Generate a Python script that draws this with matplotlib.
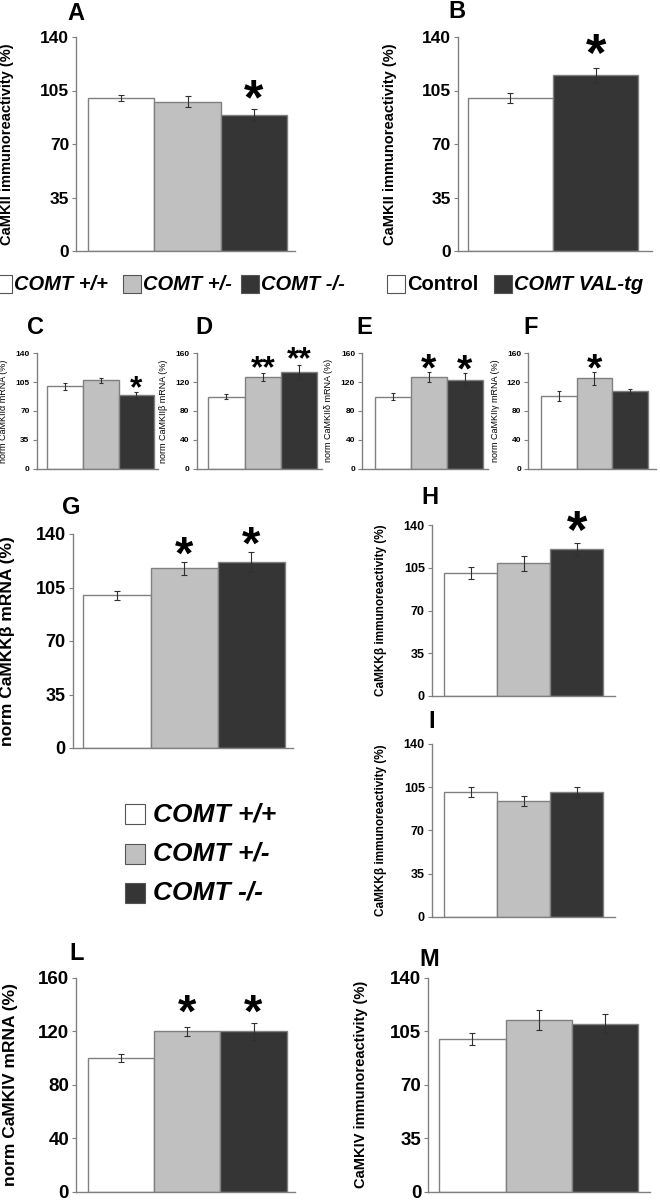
import numpy as np
import matplotlib
matplotlib.use('Agg')
import matplotlib.pyplot as plt
from matplotlib.patches import Rectangle

plt.rcParams['font.family'] = ['Liberation Sans', 'DejaVu Sans']

W, H = 660, 1200

# colores de las barras: +/+ , +/- , -/-
colores = ['white', '#c0c0c0', '#353535']
borde = '#808080'

# datos (% del control)
a_vals = [100, 97.5, 89];    a_err = [1.8, 3.6, 4];    a_sig = ['', '', '*']
b_vals = [100, 115];         b_err = [3.3, 5];         b_sig = ['', '*']
c_vals = [100, 107, 89];     c_err = [4, 2.8, 4.5];    c_sig = ['', '', '*']
d_vals = [100, 127, 134];    d_err = [3, 5, 10];       d_sig = ['', '**', '**']
e_vals = [100, 127, 123];    e_err = [4.5, 6.5, 9.5];  e_sig = ['', '*', '*']
f_vals = [100.5, 125, 107.5]; f_err = [7, 8.5, 3];     f_sig = ['', '*', '']
g_vals = [100, 117.5, 121.5]; g_err = [3, 4, 6.5];     g_sig = ['', '*', '*']
h_vals = [100.5, 108.5, 120]; h_err = [5, 6.5, 5];     h_sig = ['', '', '*']
i_vals = [101, 94, 101];     i_err = [4, 4, 4];        i_sig = ['', '', '']
l_vals = [100, 120, 120];    l_err = [3, 3.5, 6.5];    l_sig = ['', '*', '*']
m_vals = [100, 112.5, 110];  m_err = [4, 6.5, 6];      m_sig = ['', '', '']

ticks_140 = [0, 35, 70, 105, 140]
ticks_160 = [0, 40, 80, 120, 160]

fig = plt.figure(figsize=(W / 100, H / 100), dpi=100)


def fx(x):
    return x / W


def fy(y):
    return 1 - y / H


def estrella(ax, x, ytop, texto, alto_px, hueco_px):
    # glifo '*' de Liberation Sans Bold: ~0.28 a ~0.66 em sobre la base
    em = alto_px / 0.38
    fs = em * 72 / 100
    off = (hueco_px - 0.28 * em) * 72 / 100
    ax.annotate(texto, (x, ytop), xytext=(0, off), textcoords='offset points',
                ha='center', va='baseline', fontsize=fs, fontweight='bold',
                annotation_clip=False)


def panel(caja, vals, errs, sig, ticks, ylabel, tick_fs, lab_fs, lab_bold,
          lab_x, cols, ast_h=18, ast_gap=8, alinear=False, cap=2.5):
    spine, top, bottom, end, bl, br = caja
    n = len(vals)
    ax = fig.add_axes([fx(spine), fy(bottom), (end - spine) / W, (bottom - top) / H])
    unit = (br - bl) / n
    ax.set_xlim(-0.5 - (bl - spine) / unit, n - 0.5 + (end - br) / unit)
    ax.set_ylim(0, ticks[-1])
    x = np.arange(n)
    ax.bar(x, vals, width=1.0, color=cols, edgecolor=borde, linewidth=1.0,
           yerr=errs, error_kw=dict(ecolor='#303030', elinewidth=0.8,
                                    capsize=cap, capthick=0.8))
    for s in ['top', 'right']:
        ax.spines[s].set_visible(False)
    for s in ['left', 'bottom']:
        ax.spines[s].set_color(borde)
        ax.spines[s].set_linewidth(1.0)
    ax.set_xticks([])
    ax.set_yticks(ticks)
    ax.tick_params(axis='y', length=3, width=0.8, color=borde, labelsize=tick_fs, pad=2)
    for t in ax.get_yticklabels():
        t.set_fontweight('bold')
    ax.set_ylabel(ylabel, fontsize=lab_fs, fontweight='bold' if lab_bold else 'normal')
    ax.yaxis.set_label_coords((lab_x - spine) / (end - spine), 0.5)
    tops = [v + e for v, e in zip(vals, errs)]
    for i, s in enumerate(sig):
        if s:
            yt = max(tops) if alinear else tops[i]
            estrella(ax, i, yt, s, ast_h, ast_gap)
    return ax


# A
panel((76, 37, 251, 295, 88, 287), a_vals, a_err, a_sig, ticks_140,
      'CaMKII immunoreactivity (%)', 12.5, 10.5, True, 14, colores,
      ast_h=19, ast_gap=9)
# B
panel((457.7, 37, 251, 651.7, 467.7, 638.3), b_vals, b_err, b_sig, ticks_140,
      'CaMKII immunoreactivity (%)', 12.5, 10.5, True, 397, [colores[0], colores[2]],
      ast_h=20, ast_gap=11)
# C - F
fila = (353.3, 468.5)
panel((36.5, fila[0], fila[1], 158, 47.3, 154.3), c_vals, c_err, c_sig, ticks_140,
      'norm CaMKIIα mRNA (%)', 6, 6.5, False, 8, colores,
      ast_h=12, ast_gap=3, cap=1.5)
panel((196.5, fila[0], fila[1], 322, 208.3, 317.3), d_vals, d_err, d_sig, ticks_160,
      'norm CaMKIIβ mRNA (%)', 6, 6.5, False, 168, colores,
      ast_h=12, ast_gap=5, cap=1.5)
panel((362, fila[0], fila[1], 488, 375, 482.7), e_vals, e_err, e_sig, ticks_160,
      'norm CaMKIIδ mRNA (%)', 6, 6.5, False, 333, colores,
      ast_h=15, ast_gap=2.5, cap=1.5)
panel((528, fila[0], fila[1], 656, 541, 647.7), f_vals, f_err, f_sig, ticks_160,
      'norm CaMKIIγ mRNA (%)', 6, 6.5, False, 500, colores,
      ast_h=15, ast_gap=2.7, cap=1.5)
# G
panel((72.7, 534, 748, 293, 83.3, 285), g_vals, g_err, g_sig, ticks_140,
      'norm CaMKKβ mRNA (%)', 13, 12.5, True, 15, colores,
      ast_h=18, ast_gap=7)
# H, I
panel((431.7, 525, 696, 615, 444.3, 603.3), h_vals, h_err, h_sig, ticks_140,
      'CaMKKβ immunoreactivity (%)', 9, 8.5, True, 387, colores,
      ast_h=20, ast_gap=10, cap=2)
panel((431.7, 744, 916.7, 615, 444.3, 603.3), i_vals, i_err, i_sig, ticks_140,
      'CaMKKβ immunoreactivity (%)', 9, 8.5, True, 387, colores, cap=2)
# L, M
panel((76, 977.7, 1191.7, 295, 87.7, 286.7), l_vals, l_err, l_sig, ticks_160,
      'norm CaMKIV mRNA (%)', 13.5, 12.5, True, 18, colores,
      ast_h=18, ast_gap=9, alinear=True)
panel((428.3, 977.7, 1191.7, 650, 439.3, 638.3), m_vals, m_err, m_sig, ticks_140,
      'CaMKIV immunoreactivity (%)', 13.5, 10.5, True, 368, colores)

# letras de los paneles
letras = [('A', 76, 13), ('B', 457, 12), ('C', 36, 327), ('D', 204, 327),
          ('E', 364, 327), ('F', 531, 327), ('G', 71, 508), ('H', 430, 497),
          ('I', 432, 722), ('L', 77, 953), ('M', 429, 959)]
for t, x, y in letras:
    fig.text(fx(x), fy(y), t, fontsize=17, fontweight='bold', ha='center', va='center')


def muestra(x, y, lado, col, texto, fs, sep=2, italic=True):
    fig.patches.append(Rectangle((fx(x), fy(y + lado / 2)), lado / W, lado / H,
                                 transform=fig.transFigure, facecolor=col,
                                 edgecolor='#555555', linewidth=0.8))
    fig.text(fx(x + lado + sep), fy(y), texto, fontsize=fs, fontweight='bold',
             style='italic' if italic else 'normal', ha='left', va='center')


# leyenda fila superior
etiquetas = ['COMT +/+', 'COMT +/-', 'COMT -/-']
for x0, col, t in zip([-6, 123, 241], colores, etiquetas):
    muestra(x0, 284, 18, col, t, 14.5)
muestra(387, 284, 18, colores[0], 'Control', 14.5, italic=False)
muestra(494, 284, 18, colores[2], 'COMT VAL-tg', 14.5)

# leyenda grande
for y0, col, t in zip([814, 853.5, 893], colores, etiquetas):
    muestra(125, y0, 20, col, t, 19, sep=8)

fig.savefig('out.png', dpi=100)
